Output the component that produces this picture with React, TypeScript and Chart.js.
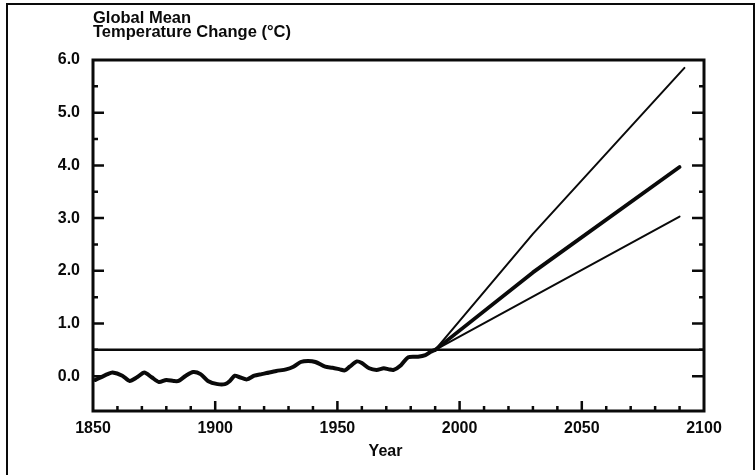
import React, { useEffect, useRef } from "react";
import { Chart, registerables } from "chart.js";

Chart.register(...registerables);

// Observed record, 1850–1990 (°C anomaly)
const histYears = [
  1851, 1856, 1858, 1862, 1865, 1868, 1871, 1874, 1877, 1880, 1883, 1885, 1888,
  1891, 1894, 1897, 1901, 1904, 1906, 1908, 1910, 1913, 1916, 1919, 1921, 1925,
  1929, 1932, 1935, 1938, 1941, 1945, 1948, 1951, 1953, 1955, 1958, 1960, 1963,
  1966, 1969, 1971, 1973, 1976, 1979, 1983, 1986, 1988, 1990,
];
const histTemps = [
  -0.07, 0.04, 0.07, 0.01, -0.09, -0.02, 0.07, -0.02, -0.11, -0.07, -0.09, -0.09, 0.01,
  0.08, 0.04, -0.09, -0.15, -0.15, -0.09, 0.01, -0.02, -0.06, 0.01, 0.04, 0.06, 0.1,
  0.13, 0.18, 0.27, 0.29, 0.27, 0.18, 0.16, 0.13, 0.11, 0.18, 0.28, 0.25, 0.15,
  0.12, 0.15, 0.13, 0.12, 0.21, 0.36, 0.37, 0.4, 0.46, 0.5,
];

// Projections from 1990
const highYears = [1990, 2030, 2092];
const highTemps = [0.5, 2.7, 5.85];
const bestYears = [1990, 2030, 2090];
const bestTemps = [0.5, 1.97, 3.97];
const lowYears = [1990, 2090];
const lowTemps = [0.5, 3.03];

// Present-day reference level
const refYears = [1850, 2100];
const refTemps = [0.5, 0.5];

const yearTicks = [1850, 1900, 1950, 2000, 2050, 2100];
const tempTicks = [0, 1, 2, 3, 4, 5, 6];
const titleLines = ["Global Mean", "Temperature Change (°C)"];
const xTitle = "Year";

const INK = "#0a0a0a";
const FONT_FAMILY = '"Liberation Sans", Arial, Helvetica, sans-serif';

const pts = (xs: number[], ys: number[]) => xs.map((x, i) => ({ x, y: ys[i] }));

const framePlugin = {
  id: "frameAndTicks",
  beforeDraw(chart: any) {
    const { ctx, width, height } = chart;
    ctx.save();
    ctx.fillStyle = "#fff";
    ctx.fillRect(0, 0, width, height);
    ctx.strokeStyle = INK;
    ctx.lineWidth = 2;
    ctx.beginPath();
    ctx.moveTo(7, height);
    ctx.lineTo(7, 4);
    ctx.lineTo(754, 4);
    ctx.lineTo(754, height - 5);
    ctx.stroke();
    ctx.restore();
  },
  afterDraw(chart: any) {
    const { ctx, chartArea: a, scales } = chart;
    const xs = scales.x;
    const ys = scales.y;
    ctx.save();
    ctx.strokeStyle = INK;
    ctx.lineWidth = 3;
    ctx.strokeRect(a.left, a.top, a.right - a.left, a.bottom - a.top);

    // inward ticks
    ctx.lineWidth = 2.5;
    ctx.beginPath();
    for (let yr = 1860; yr < 2100; yr += 10) {
      const px = xs.getPixelForValue(yr);
      const len = yr % 50 === 0 ? 10 : 5;
      ctx.moveTo(px, a.bottom);
      ctx.lineTo(px, a.bottom - len);
    }
    for (let v = 0; v < 6; v += 0.5) {
      const py = ys.getPixelForValue(v);
      const major = Number.isInteger(v);
      ctx.moveTo(a.left, py);
      ctx.lineTo(a.left + (major ? 11 : 5), py);
      ctx.moveTo(a.right, py);
      ctx.lineTo(a.right - (major ? 12 : 5), py);
    }
    ctx.stroke();

    // headings
    ctx.fillStyle = INK;
    ctx.font = `bold 16.5px ${FONT_FAMILY}`;
    ctx.textAlign = "left";
    ctx.textBaseline = "alphabetic";
    ctx.fillText(titleLines[0], a.left, 23);
    ctx.fillText(titleLines[1], a.left, 37);
    ctx.font = `bold 16px ${FONT_FAMILY}`;
    ctx.textAlign = "center";
    ctx.fillText(xTitle, (a.left + a.right) / 2 - 13, 456);
    ctx.restore();
  },
};

export default function App() {
  const canvasRef = useRef<HTMLCanvasElement | null>(null);

  useEffect(() => {
    document.body.style.margin = "0";
    const canvas = canvasRef.current;
    if (!canvas) return;

    const line = (data: any[], width: number, tension = 0) => ({
      data,
      borderColor: INK,
      borderWidth: width,
      pointRadius: 0,
      tension,
      fill: false,
      borderCapStyle: "round" as const,
      borderJoinStyle: "round" as const,
    });

    const tickFont = { family: FONT_FAMILY, size: 16, weight: "bold" as const };

    const chart = new Chart(canvas, {
      type: "line",
      data: {
        datasets: [
          line(pts(refYears, refTemps), 2.5),
          line(pts(histYears, histTemps), 4, 0.25),
          line(pts(highYears, highTemps), 2),
          line(pts(lowYears, lowTemps), 2),
          line(pts(bestYears, bestTemps), 3.8),
        ],
      },
      options: {
        responsive: false,
        animation: false,
        layout: { padding: { top: 60, right: 52, left: 0, bottom: 0 } },
        plugins: {
          legend: { display: false },
          tooltip: { enabled: false },
          title: { display: false },
        },
        scales: {
          x: {
            type: "linear",
            min: 1850,
            max: 2100,
            grid: { display: false, drawTicks: false },
            border: { display: false },
            afterBuildTicks: (s: any) => {
              s.ticks = yearTicks.map((v) => ({ value: v }));
            },
            afterFit: (s: any) => {
              s.height = 64;
            },
            ticks: {
              autoSkip: false,
              maxRotation: 0,
              padding: 8,
              color: INK,
              font: tickFont,
              callback: (v: any) => String(v),
            },
          },
          y: {
            type: "linear",
            min: -0.66,
            max: 6,
            grid: { display: false, drawTicks: false },
            border: { display: false },
            afterBuildTicks: (s: any) => {
              s.ticks = tempTicks.map((v) => ({ value: v }));
            },
            afterFit: (s: any) => {
              s.width = 93;
            },
            ticks: {
              autoSkip: false,
              padding: 13,
              color: INK,
              font: tickFont,
              callback: (v: any) => Number(v).toFixed(1),
            },
          },
        },
      },
      plugins: [framePlugin],
    });

    return () => chart.destroy();
  }, []);

  return (
    <div style={{ width: 756, height: 475, background: "#fff" }}>
      <canvas ref={canvasRef} width={756} height={475} style={{ display: "block", width: 756, height: 475 }} />
    </div>
  );
}
